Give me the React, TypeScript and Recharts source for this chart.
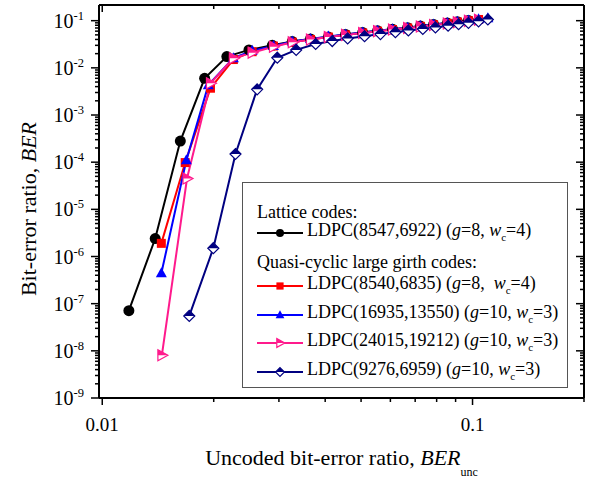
import type { FC } from 'react';
import { Legend, Line, LineChart, XAxis, YAxis } from 'recharts';

const FONT = '"Liberation Serif", "Times New Roman", Times, serif';

// Lattice codes: LDPC(8547,6922)
const latticeUnc = [0.0118, 0.0139, 0.01625, 0.0189, 0.0217, 0.0249, 0.0288, 0.0326, 0.0365, 0.0408, 0.0454, 0.0505, 0.0554, 0.0608, 0.0668, 0.0723, 0.0785, 0.0855, 0.091, 0.0975];
const latticeBer = [7.1e-8, 2.4e-6, 2.8e-4, 6.0e-3, 1.73e-2, 2.4e-2, 3.0e-2, 3.6e-2, 4.1e-2, 4.5e-2, 5.1e-2, 5.6e-2, 6.1e-2, 6.6e-2, 7.1e-2, 7.7e-2, 8.3e-2, 8.9e-2, 9.5e-2, 0.101];

// Quasi-cyclic: LDPC(8540,6835)
const qc8540Unc = [0.01444, 0.01675, 0.0196, 0.0226, 0.0254, 0.029, 0.0326, 0.0365, 0.0408, 0.0454, 0.0505, 0.0554, 0.0608, 0.0668, 0.0723, 0.0785, 0.0855, 0.091, 0.0975, 0.1038];
const qc8540Ber = [1.9e-6, 9.8e-5, 3.7e-3, 1.5e-2, 2.2e-2, 2.9e-2, 3.5e-2, 4.0e-2, 4.5e-2, 5.0e-2, 5.5e-2, 6.0e-2, 6.5e-2, 7.0e-2, 7.6e-2, 8.2e-2, 8.8e-2, 9.4e-2, 0.1, 0.106];

// LDPC(16935,13550)
const qc16935Unc = [0.01444, 0.01687, 0.01934, 0.0226, 0.0254, 0.029, 0.0326, 0.0365, 0.0408, 0.0454, 0.0505, 0.0554, 0.0608, 0.0668, 0.0723, 0.0785, 0.0855, 0.091, 0.0975, 0.1038, 0.11];
const qc16935Ber = [4.4e-7, 1.1e-4, 4.3e-3, 1.6e-2, 2.3e-2, 2.9e-2, 3.6e-2, 4.1e-2, 4.6e-2, 5.1e-2, 5.6e-2, 6.1e-2, 6.6e-2, 7.1e-2, 7.7e-2, 8.3e-2, 8.9e-2, 9.5e-2, 0.101, 0.107, 0.113];

// LDPC(24015,19212)
const qc24015Unc = [0.01449, 0.01694, 0.0196, 0.0226, 0.0254, 0.029, 0.0326, 0.0365, 0.0408, 0.0454, 0.0505, 0.0554, 0.0608, 0.0668, 0.0723, 0.0785, 0.0855, 0.091, 0.0975, 0.1038];
const qc24015Ber = [8.1e-9, 4.5e-5, 4.7e-3, 1.6e-2, 2.1e-2, 2.8e-2, 3.5e-2, 4.0e-2, 4.5e-2, 5.0e-2, 5.5e-2, 6.0e-2, 6.5e-2, 7.0e-2, 7.5e-2, 8.1e-2, 8.7e-2, 9.3e-2, 0.099, 0.105];

// LDPC(9276,6959)
const qc9276Unc = [0.01718, 0.01995, 0.0229, 0.0262, 0.0297, 0.0334, 0.0377, 0.0418, 0.046, 0.0511, 0.0564, 0.0619, 0.0671, 0.0734, 0.0794, 0.0859, 0.0917, 0.0975, 0.1038, 0.11];
const qc9276Ber = [5.5e-8, 1.5e-6, 1.49e-4, 3.5e-3, 1.64e-2, 2.4e-2, 3.2e-2, 3.7e-2, 4.2e-2, 4.7e-2, 5.2e-2, 5.7e-2, 6.2e-2, 6.7e-2, 7.2e-2, 7.8e-2, 8.4e-2, 9.0e-2, 9.7e-2, 0.106];

// axis ticks
const xTicks = [0.01, 0.02, 0.03, 0.04, 0.05, 0.06, 0.07, 0.08, 0.09, 0.1, 0.2];
const xLabels = [0.01, 0.1];
const yDecades = [-9, -8, -7, -6, -5, -4, -3, -2, -1];
const yMinorSteps = [2, 3, 4, 5, 6, 7, 8, 9];
const yTicks = yDecades.flatMap(e => [10 ** e, ...yMinorSteps.map(k => k * 10 ** e)]).filter(v => v < 0.2);

const toPoints = (unc: number[], ber: number[]) => unc.map((u, i) => ({ unc: u, ber: ber[i] }));

const isDecade = (v: number) => Math.abs(Math.log10(v) - Math.round(Math.log10(v))) < 1e-6;

type MarkerProps = { cx?: number; cy?: number; s?: number };

const Circle = ({ cx = 0, cy = 0, s = 5.5 }: MarkerProps) => <circle cx={cx} cy={cy} r={s} fill='#000' />;
const Square = ({ cx = 0, cy = 0, s = 5 }: MarkerProps) => {
  const h = s * 0.9;
  return <rect x={cx - h} y={cy - h} width={h * 2} height={h * 2} fill='#ff0000' />;
};
const TriUp = ({ cx = 0, cy = 0, s = 5 }: MarkerProps) => (
  <polygon points={`${cx},${cy - s * 1.2} ${cx + s * 1.1},${cy + s * 0.8} ${cx - s * 1.1},${cy + s * 0.8}`} fill='#0000ff' />
);
const TriRight = ({ cx = 0, cy = 0, s = 5 }: MarkerProps) => (
  <g>
    <polygon points={`${cx - s * 0.8},${cy - s * 1.1} ${cx + s * 1.2},${cy} ${cx - s * 0.8},${cy + s * 1.1}`} fill='#fff' stroke='#ff1a8c' strokeWidth={1.2} />
    <polygon points={`${cx - s * 0.8},${cy - s * 1.1} ${cx + s * 1.2},${cy} ${cx - s * 0.8},${cy}`} fill='#ff1a8c' />
  </g>
);
const Diamond = ({ cx = 0, cy = 0, s = 5 }: MarkerProps) => (
  <g>
    <polygon points={`${cx},${cy - s * 1.1} ${cx + s * 1.1},${cy} ${cx},${cy + s * 1.1} ${cx - s * 1.1},${cy}`} fill='#fff' stroke='#000080' strokeWidth={1.2} />
    <polygon points={`${cx},${cy - s * 1.1} ${cx + s * 1.1},${cy} ${cx - s * 1.1},${cy}`} fill='#000080' />
  </g>
);

type Series = { key: string; name: string; g: string; wc: string; color: string; data: { unc: number; ber: number }[]; Marker: FC<MarkerProps> };

const series: Series[] = [
  { key: 'lattice', name: 'LDPC(8547,6922)', g: '8', wc: '4', color: '#000000', data: toPoints(latticeUnc, latticeBer), Marker: Circle },
  { key: 'qc8540', name: 'LDPC(8540,6835)', g: '8', wc: '4', color: '#ff0000', data: toPoints(qc8540Unc, qc8540Ber), Marker: Square },
  { key: 'qc16935', name: 'LDPC(16935,13550)', g: '10', wc: '3', color: '#0000ff', data: toPoints(qc16935Unc, qc16935Ber), Marker: TriUp },
  { key: 'qc24015', name: 'LDPC(24015,19212)', g: '10', wc: '3', color: '#ff1a8c', data: toPoints(qc24015Unc, qc24015Ber), Marker: TriRight },
  { key: 'qc9276', name: 'LDPC(9276,6959)', g: '10', wc: '3', color: '#000080', data: toPoints(qc9276Unc, qc9276Ber), Marker: Diamond },
];

type TickProps = { x?: number; y?: number; payload?: { value: number } };

const BottomTick = ({ x = 0, y = 0, payload }: TickProps) => {
  const v = payload?.value ?? 0;
  const major = isDecade(v);
  return (
    <g>
      <line x1={x} x2={x} y1={y} y2={y + (major ? 7 : 4)} stroke='#000' strokeWidth={1.5} />
      {xLabels.includes(v) && (
        <text x={x} y={y + 33} textAnchor='middle' fontFamily={FONT} fontSize={19} fill='#000'>
          {String(v)}
        </text>
      )}
    </g>
  );
};

const TopTick = ({ x = 0, y = 0, payload }: TickProps) => {
  const major = isDecade(payload?.value ?? 0);
  return <line x1={x} x2={x} y1={y} y2={y + (major ? 7 : 4)} stroke='#000' strokeWidth={1.5} />;
};

const LeftTick = ({ x = 0, y = 0, payload }: TickProps) => {
  const v = payload?.value ?? 1;
  const major = isDecade(v);
  return (
    <g>
      <line x1={x} x2={x - (major ? 8 : 4)} y1={y} y2={y} stroke='#000' strokeWidth={1.5} />
      {major && (
        <text x={x - 15} y={y + 7} textAnchor='end' fontFamily={FONT} fontSize={20} fill='#000'>
          10
          <tspan dy={-8} fontSize={12.5}>
            {String(Math.round(Math.log10(v)))}
          </tspan>
        </text>
      )}
    </g>
  );
};

const RightTick = ({ x = 0, y = 0, payload }: TickProps) => {
  const major = isDecade(payload?.value ?? 1);
  return <line x1={x} x2={x - (major ? 8 : 4)} y1={y} y2={y} stroke='#000' strokeWidth={1.5} />;
};

const LegendEntry = ({ s }: { s: Series }) => {
  const Marker = s.Marker;
  return (
    <>
      <svg width={46} height={16} style={{ marginRight: 4 }}>
        <line x1={0} x2={46} y1={8} y2={8} stroke={s.color} strokeWidth={2} />
        <Marker cx={23} cy={8} s={4} />
      </svg>
      <span>
        {s.name} (<i>g</i>={s.g}, {s.key === 'qc8540' ? '\u00a0' : ''}
        <i>w</i>
        <sub style={{ fontSize: 11, verticalAlign: -5 }}>c</sub>={s.wc})
      </span>
    </>
  );
};

const legendRowCenters = [29, 50, 79, 103, 132, 160, 189];

const LegendBox = () => {
  const rows: Array<{ header?: string; s?: Series }> = [
    { header: 'Lattice codes:' },
    { s: series[0] },
    { header: 'Quasi-cyclic large girth codes:' },
    ...series.slice(1).map(s => ({ s })),
  ];
  return (
    <div
      style={{
        position: 'relative',
        width: 326,
        height: 206,
        boxSizing: 'border-box',
        border: '1px solid #555',
        background: '#fff',
        fontFamily: FONT,
        fontSize: 18,
        color: '#000',
      }}
    >
      {rows.map((row, i) => (
        <div
          key={i}
          style={{ position: 'absolute', left: 14, top: legendRowCenters[i] - 11, height: 22, lineHeight: '22px', whiteSpace: 'nowrap', display: 'flex', alignItems: 'center' }}
        >
          {row.s ? <LegendEntry s={row.s} /> : row.header}
        </div>
      ))}
    </div>
  );
};

const XTitle = ({ viewBox }: { viewBox?: { x: number; y: number; width: number } }) => {
  const { x = 0, y = 0, width = 0 } = viewBox ?? {};
  return (
    <text x={x + width / 2} y={y + 67} textAnchor='middle' fontFamily={FONT} fontSize={22} fill='#000'>
      Uncoded bit-error ratio, <tspan fontStyle='italic'>BER</tspan>
      <tspan dy={11} fontSize={12}>
        unc
      </tspan>
    </text>
  );
};

const YTitle = () => (
  <text x={28} y={209} transform='rotate(-90 28 209)' textAnchor='middle' dominantBaseline='central' fontFamily={FONT} fontSize={22} fill='#000'>
    Bit-error ratio, <tspan fontStyle='italic'>BER</tspan>
  </text>
);

const App: FC = () => (
  <div style={{ position: 'absolute', left: 0, top: 0, background: '#fff' }}>
    <LineChart width={591} height={478} margin={{ top: 0, right: 0, bottom: 0, left: 0 }}>
      <XAxis
        xAxisId='bottom'
        dataKey='unc'
        type='number'
        scale='log'
        domain={[0.0098, 0.2]}
        allowDataOverflow
        ticks={xTicks}
        interval={0}
        height={80}
        tickSize={0}
        tickMargin={0}
        tickLine={false}
        axisLine={{ stroke: '#000', strokeWidth: 2 }}
        tick={<BottomTick />}
        label={<XTitle />}
      />
      <XAxis
        xAxisId='top'
        orientation='top'
        dataKey='unc'
        type='number'
        scale='log'
        domain={[0.0098, 0.2]}
        allowDataOverflow
        ticks={xTicks}
        interval={0}
        height={5}
        tickSize={0}
        tickMargin={0}
        tickLine={false}
        axisLine={{ stroke: '#000', strokeWidth: 2 }}
        tick={<TopTick />}
      />
      <YAxis
        yAxisId='left'
        dataKey='ber'
        type='number'
        scale='log'
        domain={[1e-9, 0.215]}
        allowDataOverflow
        ticks={yTicks}
        interval={0}
        width={99}
        tickSize={0}
        tickMargin={0}
        tickLine={false}
        axisLine={{ stroke: '#000', strokeWidth: 2 }}
        tick={<LeftTick />}
        label={<YTitle />}
      />
      <YAxis
        yAxisId='right'
        orientation='right'
        dataKey='ber'
        type='number'
        scale='log'
        domain={[1e-9, 0.215]}
        allowDataOverflow
        ticks={yTicks}
        interval={0}
        width={7}
        tickSize={0}
        tickMargin={0}
        tickLine={false}
        axisLine={{ stroke: '#000', strokeWidth: 2 }}
        tick={<RightTick />}
      />
      {series.map(s => {
        const Marker = s.Marker;
        return (
          <Line
            key={s.key}
            xAxisId='bottom'
            yAxisId='left'
            data={s.data}
            dataKey='ber'
            name={s.name}
            type='linear'
            stroke={s.color}
            strokeWidth={2}
            isAnimationActive={false}
            dot={(p: MarkerProps) => <Marker key={`${s.key}-${p.cx}-${p.cy}`} cx={p.cx} cy={p.cy} />}
            activeDot={false}
          />
        );
      })}
      <Legend
        layout='vertical'
        align='center'
        verticalAlign='middle'
        wrapperStyle={{ left: 242, top: 182, width: 326, height: 206 }}
        content={<LegendBox />}
      />
    </LineChart>
  </div>
);

export default App;
